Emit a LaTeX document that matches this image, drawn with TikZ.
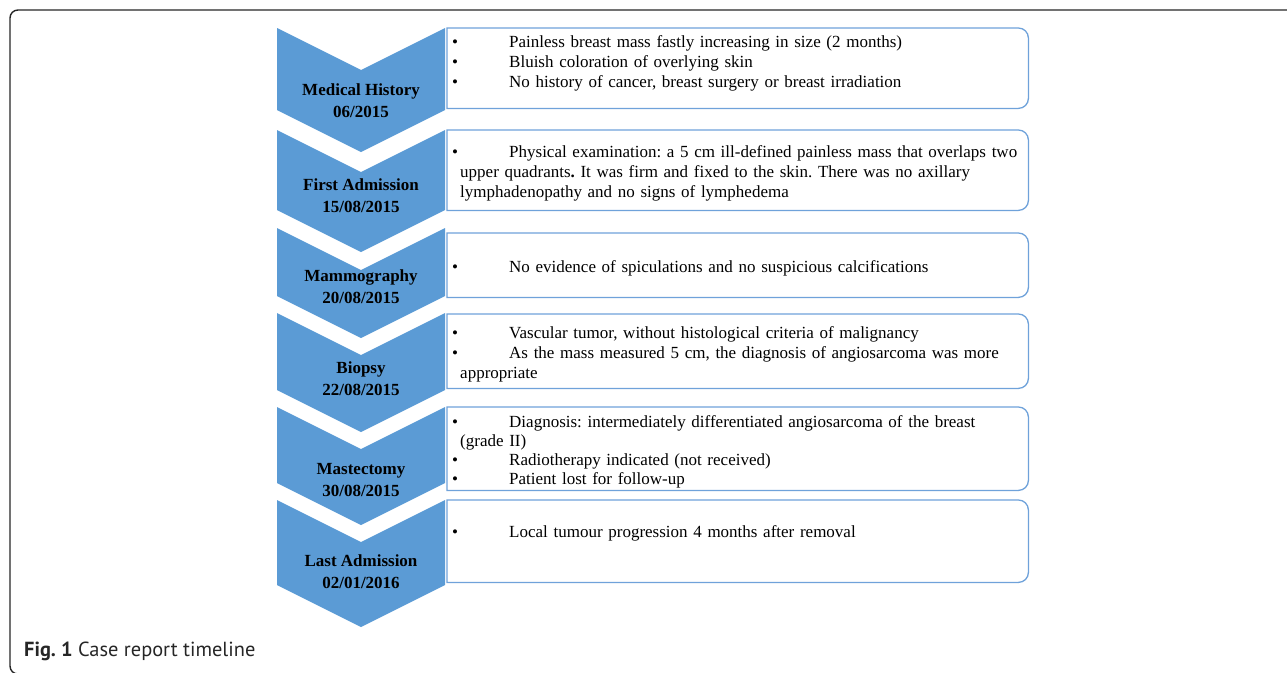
\documentclass[tikz,border=0pt]{standalone}
\usepackage{fontspec}
\setmainfont{Liberation Serif}
\newfontfamily\capfont{PT Sans}
\usetikzlibrary{positioning, calc}

\definecolor{chevblue}{HTML}{5B9BD5}
\definecolor{boxblue}{HTML}{6FA2DA}

% one bulleted line, and a wrapped line under it
\newcommand{\itm}[1]{\mbox{\makebox[57pt][l]{\textbullet}#1}}
\newcommand{\more}[1]{\mbox{\hspace*{8pt}#1}}

\begin{document}
\frenchspacing
\begin{tikzpicture}[x=1pt, y=-1pt,
		chev/.style={fill=chevblue},
		stage/.style={font=\fontsize{17}{22}\selectfont\bfseries, align=center},
		entry/.style={anchor=north west, inner xsep=5pt, inner ysep=0pt, text width=571pt, align=left,
			font=\fontsize{17}{20}\selectfont},
		padded/.style={entry, execute at begin node={\rule{0pt}{19pt}\ignorespaces}},
		boxline/.style={draw=boxblue, line width=1.3pt},
		frame/.style={draw=black!85, line width=1.4pt, rounded corners=8pt}]
	
	\useasboundingbox (0,0) rectangle (1287,672);
	
	% figure frame
	\draw[frame] (60,674) -- (10,674) -- (10,10) -- (1300,10);
	
	% chevrons, top and side bottom of each
	\foreach \t/\b in {28/110, 130/210, 228/296, 313/390, 407/483, 500/585}
		\fill[chev] (277,\t) -- (361,\t+42) -- (445,\t) -- (445,\b) -- (361,\b+42) -- (277,\b) -- cycle;
	
	\node[stage] (history) at (361,101) {Medical History\\06/2015};
	\node[stage] (admission) at (361,196) {First Admission\\15/08/2015};
	\node[stage] (mammo) at (361,287) {Mammography\\20/08/2015};
	\node[stage] (biopsy) at (361,379) {Biopsy\\22/08/2015};
	\node[stage] (surgery) at (361,480) {Mastectomy\\30/08/2015};
	\node[stage] (lastadm) at (361,572) {Last Admission\\02/01/2016};
	
	% findings
	\node[padded, minimum height=80] (historybox) at (447,28) {
		\itm{Painless breast mass fastly increasing in size (2 months)}\\
		\itm{Bluish coloration of overlying skin}\\
		\itm{No history of cancer, breast surgery or breast irradiation}\\[-6pt]
		\strut};
	
	\node[padded, minimum height=80] (admissionbox) at (447,130) {
		\itm{Physical examination: a 5 cm ill-defined painless mass that overlaps two}\\
		\more{upper quadrants{\bfseries.} It was firm and fixed to the skin. There was no axillary}\\
		\more{lymphadenopathy and no signs of lymphedema}};
	
	\node[padded, minimum height=64] (mammobox) at (447,233) {
		\itm{No evidence of spiculations and no suspicious calcifications}};
	
	\node[padded, minimum height=74] (biopsybox) at (447,314) {
		\itm{Vascular tumor, without histological criteria of malignancy}\\
		\itm{As the mass measured 5 cm, the diagnosis of angiosarcoma was more}\\
		\more{appropriate}};
	
	\node[padded, minimum height=83, font=\fontsize{17}{19}\selectfont] (surgerybox) at (447,407) {
		\itm{Diagnosis: intermediately differentiated angiosarcoma of the breast}\\
		\more{(grade II)}\\
		\itm{Radiotherapy indicated (not received)}\\
		\itm{Patient lost for follow-up}};
	
	\node[padded, minimum height=82] (lastbox) at (447,500) {
		\itm{Local tumour progression 4 months after removal}\\
		\strut};
	
	% box outlines, square on the left, rounded on the right
	\foreach \b in {historybox, admissionbox, mammobox, biopsybox, surgerybox, lastbox}
		\draw[boxline] (\b.south west) -- (\b.north west) -- ([xshift=-10pt]\b.north east)
			arc[start angle=90, end angle=0, radius=10pt] -- ([yshift=10pt]\b.south east)
			arc[start angle=0, end angle=-90, radius=10pt] -- cycle;
	
	\node[anchor=west, inner sep=0pt, font=\capfont\fontsize{20.4}{24}\selectfont, text=black!85] (caption) at (24,651) {\textbf{Fig. 1} Case report timeline};
	
\end{tikzpicture}
\end{document}
